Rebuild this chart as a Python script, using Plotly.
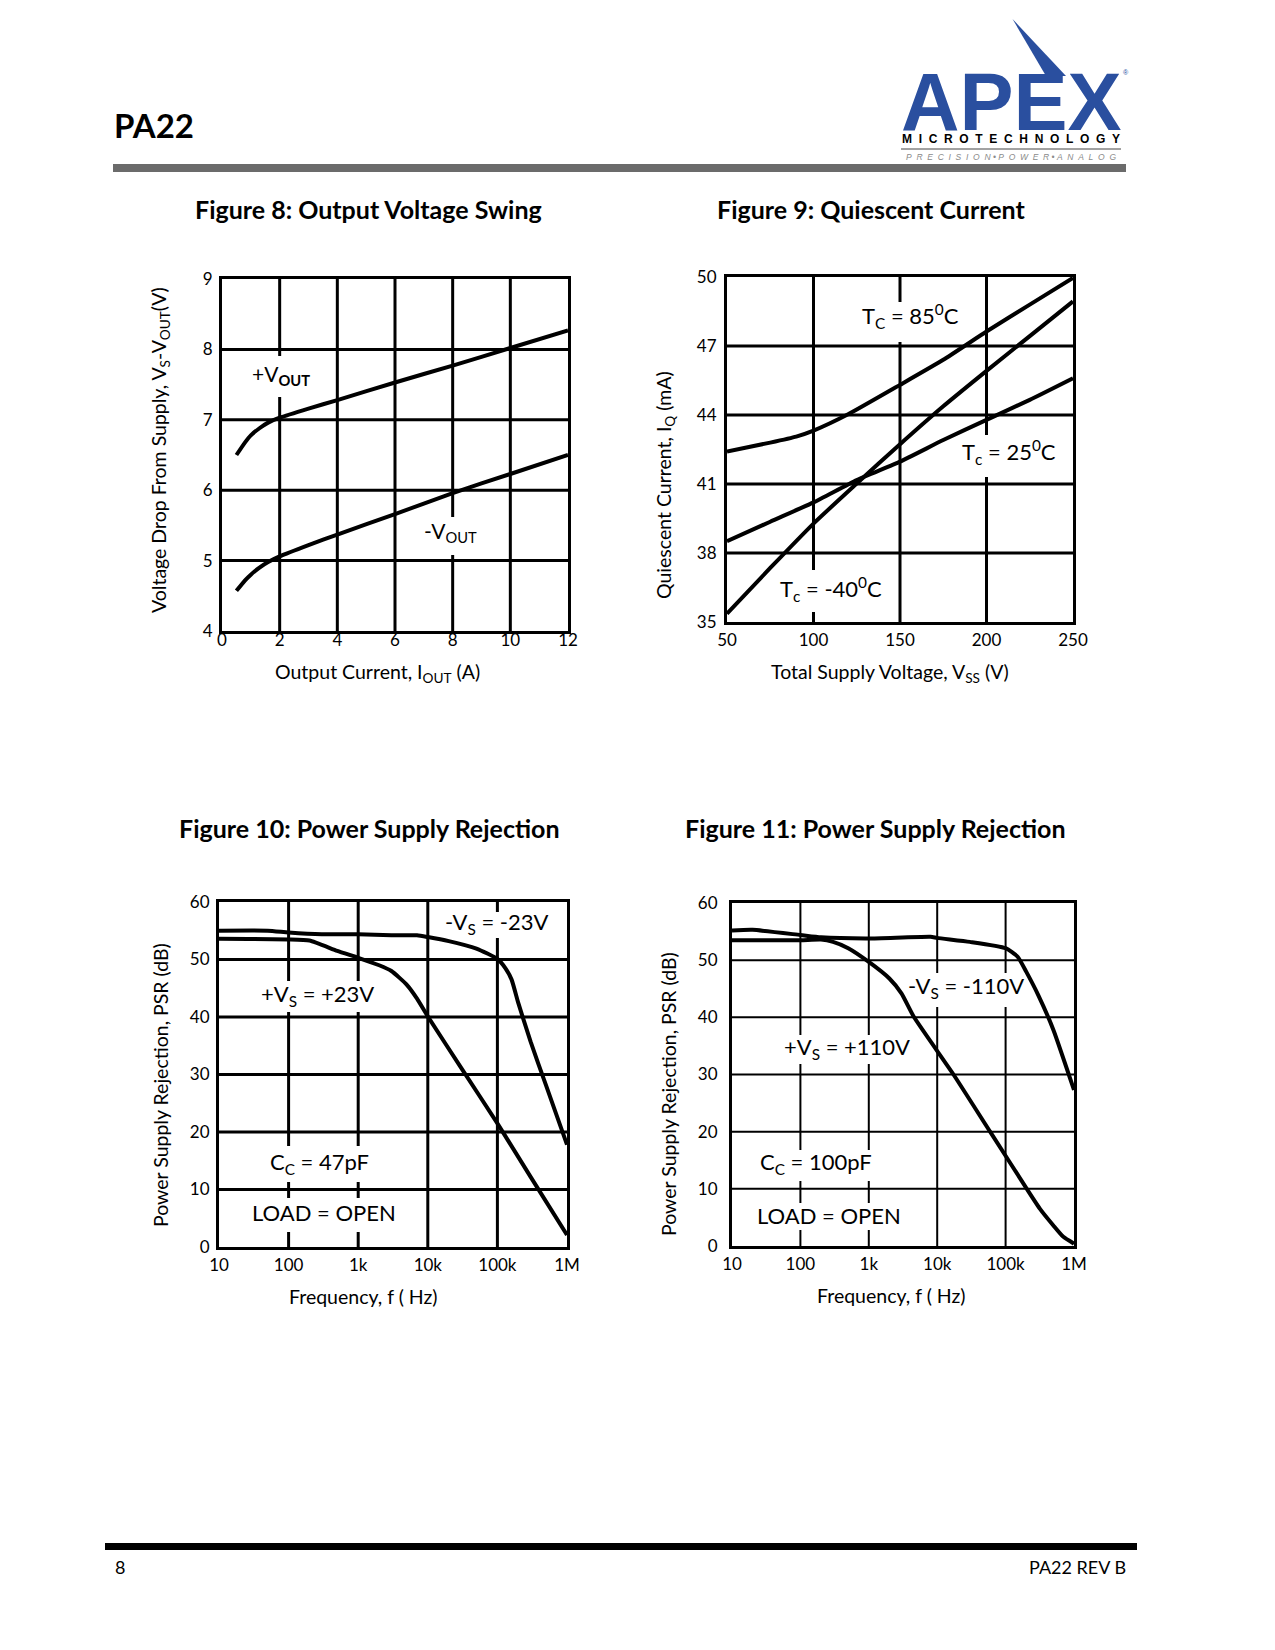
import math
import plotly.graph_objects as go

W, H = 1275, 1650
FONT = "Lato"

# ---------------- data ----------------
# Figure 8: Output Voltage Swing
iout_a = [0.5, 0.8, 1.0, 1.3, 1.6, 2, 3, 4, 6, 8, 10, 12]
vdrop_pos = [6.50, 6.68, 6.78, 6.88, 6.96, 7.03, 7.16, 7.28, 7.53, 7.77, 8.02, 8.27]
vdrop_neg = [4.57, 4.72, 4.80, 4.90, 4.98, 5.06, 5.22, 5.37, 5.66, 5.96, 6.23, 6.50]
fig8_xticks = [0, 2, 4, 6, 8, 10, 12]
fig8_yticks = [4, 5, 6, 7, 8, 9]

# Figure 9: Quiescent Current
vss_85 = [50, 75, 90, 100, 120, 150, 175, 200, 225, 250]
iq_85 = [42.41, 42.80, 43.06, 43.32, 44.03, 45.31, 46.40, 47.63, 48.80, 49.96]
vss_25 = [50, 75, 100, 125, 150, 175, 200, 225, 250]
iq_25 = [38.51, 39.36, 40.20, 41.17, 41.97, 42.91, 43.79, 44.66, 45.60]
vss_m40 = [50, 75, 100, 125, 150, 175, 200, 225, 250]
iq_m40 = [35.36, 37.35, 39.28, 41.02, 42.73, 44.38, 45.92, 47.43, 48.94]
fig9_xticks = [50, 100, 150, 200, 250]
fig9_yticks = [35, 38, 41, 44, 47, 50]

# Figure 10: PSR, Cc = 47pF
f10_neg = [10, 50, 100, 300, 1000, 3000, 7000, 10000, 20000, 50000, 100000, 130000, 160000, 200000, 300000, 500000, 1000000]
psr10_neg = [55.0, 55.0, 54.7, 54.4, 54.4, 54.2, 54.2, 53.9, 53.2, 51.9, 50.1, 48.5, 46.5, 42.4, 35.7, 28.1, 17.8]
f10_pos = [10, 100, 200, 500, 1000, 2000, 3000, 5000, 7000, 10000, 30000, 100000, 300000, 1000000]
psr10_pos = [53.6, 53.5, 53.3, 51.5, 50.3, 49.0, 48.0, 45.6, 43.2, 40.1, 31.2, 21.5, 12.2, 2.1]

# Figure 11: PSR, Cc = 100pF
f11_neg = [10, 20, 100, 200, 1000, 8000, 10000, 30000, 100000, 150000, 200000, 300000, 500000, 1000000]
psr11_neg = [55.2, 55.3, 54.4, 54.0, 53.8, 54.1, 53.9, 53.2, 52.1, 50.6, 48.0, 43.9, 37.8, 27.3]
f11_pos = [10, 100, 200, 300, 500, 1000, 2000, 3000, 4600, 17300, 59300, 204000, 318000, 499000, 698000, 1000000]
psr11_pos = [53.5, 53.5, 53.6, 53.2, 52.1, 49.7, 46.8, 44.2, 40.0, 30.0, 20.0, 10.0, 6.5, 3.6, 1.6, 0.4]

freq_ticks = [10, 100, 1000, 10000, 100000, 1000000]
freq_ticktext = ["10", "100", "1k", "10k", "100k", "1M"]
psr_yticks = [0, 10, 20, 30, 40, 50, 60]

# ---------------- layout helpers ----------------
def px(x):
    return x / W

def py(y):
    return 1 - y / H

# pixel boxes of plot areas: left, right, top, bottom ; axis ranges (log units for log axes)
boxes = {
    1: (222, 568, 279, 631, (0, 12), (4, 9)),
    2: (727, 1073, 277, 622, (50, 250), (35, 50)),
    3: (219, 567, 902, 1247, (1, 6), (0, 60)),
    4: (732, 1074, 903, 1246, (1, 6), (0, 60)),
}
is_log = {1: False, 2: False, 3: True, 4: True}
xticks_of = {1: fig8_xticks, 2: fig9_xticks, 3: freq_ticks, 4: freq_ticks}
yticks_of = {1: fig8_yticks, 2: fig9_yticks, 3: psr_yticks, 4: psr_yticks}
grid_w = {1: 3, 2: 3, 3: 3, 4: 2}

fig = go.Figure()

def sfx(k):
    return "" if k == 1 else str(k)

def add_line(k, x, y):
    fig.add_trace(go.Scatter(
        x=x, y=y, xaxis="x" + sfx(k), yaxis="y" + sfx(k), mode="lines",
        line=dict(color="black", width=4, shape="spline", smoothing=0.5),
        showlegend=False, hoverinfo="skip"))

add_line(1, iout_a, vdrop_pos)
add_line(1, iout_a, vdrop_neg)
add_line(2, vss_85, iq_85)
add_line(2, vss_25, iq_25)
add_line(2, vss_m40, iq_m40)
add_line(3, f10_neg, psr10_neg)
add_line(3, f10_pos, psr10_pos)
add_line(4, f11_neg, psr11_neg)
add_line(4, f11_pos, psr11_pos)


def axis(k, which, **kw):
    l, r, t, b, xr, yr = boxes[k]
    d = dict(showline=True, linecolor="black", linewidth=3, mirror=True,
             showgrid=False, zeroline=False, automargin=False,
             ticks="", tickfont=dict(family=FONT, size=17, color="black"),
             fixedrange=True)
    if which == "x":
        d.update(domain=[px(l), px(r)], range=list(xr), anchor="y" + sfx(k))
    else:
        d.update(domain=[py(b), py(t)], range=list(yr), anchor="x" + sfx(k))
    d.update(kw)
    return d

layout_axes = dict(
    xaxis=axis(1, "x", tickvals=fig8_xticks, ticklabelstandoff=-8),
    yaxis=axis(1, "y", tickvals=fig8_yticks, ticklabelstandoff=3),
    xaxis2=axis(2, "x", tickvals=fig9_xticks, ticklabelstandoff=1),
    yaxis2=axis(2, "y", tickvals=fig9_yticks, ticklabelstandoff=4),
    xaxis3=axis(3, "x", type="log", tickvals=freq_ticks, ticktext=freq_ticktext, ticklabelstandoff=1),
    yaxis3=axis(3, "y", tickvals=psr_yticks, ticklabelstandoff=3),
    xaxis4=axis(4, "x", type="log", tickvals=freq_ticks, ticktext=freq_ticktext, ticklabelstandoff=1),
    yaxis4=axis(4, "y", tickvals=psr_yticks, ticklabelstandoff=8),
)

shapes = []

def xdata(k, v):
    # shapes on log axes are given in data units
    return 10 ** v if is_log[k] else v

# grid lines (drawn under the curves), then white masks that break them behind labels
for k in boxes:
    l, r, t, b, xr, yr = boxes[k]
    for v in xticks_of[k]:
        xv = math.log10(v) if is_log[k] else v
        if xr[0] < xv < xr[1]:
            shapes.append(dict(type="line", xref="x" + sfx(k), yref="y" + sfx(k),
                               x0=v, x1=v, y0=yr[0], y1=yr[1], layer="below",
                               line=dict(color="black", width=grid_w[k])))
    for v in yticks_of[k]:
        if yr[0] < v < yr[1]:
            shapes.append(dict(type="line", xref="x" + sfx(k), yref="y" + sfx(k),
                               x0=xdata(k, xr[0]), x1=xdata(k, xr[1]), y0=v, y1=v, layer="below",
                               line=dict(color="black", width=grid_w[k])))

def mask(k, x0, x1, y0, y1):
    l, r, t, b, xr, yr = boxes[k]
    def dx(X):
        return xdata(k, xr[0] + (X - l) / (r - l) * (xr[1] - xr[0]))
    def dy(Y):
        return yr[0] + (b - Y) / (b - t) * (yr[1] - yr[0])
    shapes.append(dict(type="rect", xref="x" + sfx(k), yref="y" + sfx(k),
                       x0=dx(x0), x1=dx(x1), y0=dy(y1), y1=dy(y0),
                       fillcolor="white", line=dict(width=0), layer="below"))

mask(1, 265, 293, 356, 397)
mask(1, 440, 466, 517, 555)
mask(2, 890, 910, 302, 342)
mask(2, 977, 997, 435, 477)
mask(2, 803, 823, 570, 612)
mask(3, 440, 550, 912, 938)
mask(3, 262, 373, 981, 1012)
mask(3, 268, 370, 1146, 1182)
mask(3, 252, 396, 1198, 1232)
mask(4, 905, 1025, 973, 1007)
mask(4, 785, 910, 1035, 1064)
mask(4, 758, 873, 1150, 1181)
mask(4, 756, 902, 1203, 1230)

# header / footer bars
shapes.append(dict(type="rect", xref="paper", yref="paper", x0=px(113), x1=px(1126),
                   y0=py(172), y1=py(164), fillcolor="#6b6b6b", line=dict(width=0)))
shapes.append(dict(type="rect", xref="paper", yref="paper", x0=px(105), x1=px(1137),
                   y0=py(1550), y1=py(1543), fillcolor="black", line=dict(width=0)))
# logo spike and rule
spike = "M {:.5f},{:.5f} L {:.5f},{:.5f} L {:.5f},{:.5f} Z".format(
    px(1012.5), py(19), px(1046), py(76), px(1066), py(76))
shapes.append(dict(type="path", xref="paper", yref="paper", path=spike,
                   fillcolor="#2A4F9F", line=dict(width=0)))
shapes.append(dict(type="line", xref="paper", yref="paper", x0=px(901), x1=px(1121),
                   y0=py(149), y1=py(149), line=dict(color="#444444", width=1)))

annotations = []

def note(text, x, y, size, xanchor="center", yanchor="middle", angle=0,
         color="black", family=FONT):
    annotations.append(dict(text=text, x=px(x), y=py(y), xref="paper", yref="paper",
                            xanchor=xanchor, yanchor=yanchor, showarrow=False,
                            textangle=angle, font=dict(family=family, size=size, color=color)))

# header
note("<b>PA22</b>", 112, 125, 33, xanchor="left")
note("<b>APEX</b>", 1011, 101.5, 81, color="#2A4F9F", family="Liberation Sans")
note("®", 1126, 73, 7, color="#2A4F9F", family="Liberation Sans")
nb = "\u00a0"
note("<b>" + (nb * 2).join("MICROTECHNOLOGY") + "</b>", 1011, 139, 12,
     family="Liberation Sans")
note("<i>" + (nb * 2).join("PRECISION") + nb + "•" + nb + (nb * 2).join("POWER") + nb + "•" + nb
     + (nb * 2).join("ANALOG") + "</i>", 1011, 157, 8.5, color="#8a8a8a", family="Liberation Sans")

# figure titles
note("<b>Figure 8: Output Voltage Swing</b>", 368, 209, 25)
note("<b>Figure 9: Quiescent Current</b>", 871, 209, 25)
note("<b>Figure 10: Power Supply Rejection</b>", 369, 828, 25)
note("<b>Figure 11: Power Supply Rejection</b>", 875, 828, 25)

# axis titles
note("Output Current, I<sub>OUT</sub> (A)", 377, 673, 19.5)
note("Voltage Drop From Supply, V<sub>S</sub>-V<sub>OUT</sub>(V)", 160, 450, 19.5, angle=-90)
note("Total Supply Voltage, V<sub>SS</sub> (V)", 890, 673, 19.5)
note("Quiescent Current, I<sub>Q</sub> (mA)", 665, 485, 19.5, angle=-90)
note("Frequency, f ( Hz)", 364, 1296, 19.5)
note("Power Supply Rejection, PSR (dB)", 160, 1085, 19.5, angle=-90)
note("Frequency, f ( Hz)", 891, 1295, 19.5)
note("Power Supply Rejection, PSR (dB)", 668, 1094, 19.5, angle=-90)

# curve labels
note("+V<sub><b>OUT</b></sub>", 281, 375, 21)
note("-V<sub>OUT</sub>", 451, 532, 21)
note("T<sub>C</sub> = 85<sup>0</sup>C", 910, 316, 22)
note("T<sub>c</sub> = 25<sup>0</sup>C", 1009, 452, 22)
note("T<sub>c</sub> = -40<sup>0</sup>C", 831, 589, 22)
note("-V<sub>S</sub> = -23V", 496, 923, 22)
note("+V<sub>S</sub> = +23V", 317, 995, 22)
note("C<sub>C</sub> = 47pF", 319, 1163, 22)
note("LOAD = OPEN", 324, 1212, 22)
note("-V<sub>S</sub> = -110V", 966, 987, 22)
note("+V<sub>S</sub> = +110V", 847, 1048, 22)
note("C<sub>C</sub> = 100pF", 816, 1163, 22)
note("LOAD = OPEN", 829, 1215, 22)

# footer
note("8", 113, 1567, 18, xanchor="left")
note("PA22 REV B", 1128, 1567, 18, xanchor="right")

fig.update_layout(
    width=W, height=H, autosize=False,
    margin=dict(l=0, r=0, t=0, b=0, pad=0, autoexpand=False),
    paper_bgcolor="white", plot_bgcolor="white",
    font=dict(family=FONT, color="black"),
    shapes=shapes, annotations=annotations,
    **layout_axes,
)

fig.write_html("out.html", config={"displayModeBar": False},
               post_script="document.body.style.margin='0';document.body.style.overflow='hidden';")
